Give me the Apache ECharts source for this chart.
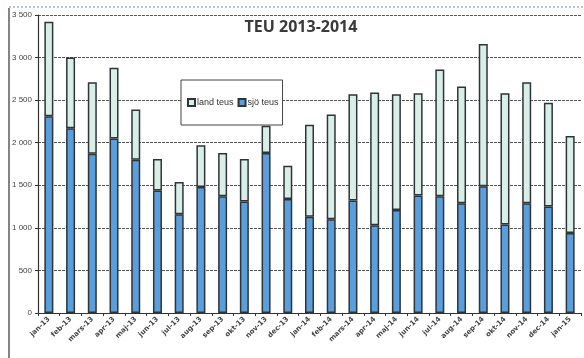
<!DOCTYPE html>
<html>
<head>
<meta charset="utf-8">
<script src="https://cdn.jsdelivr.net/npm/echarts@6/dist/echarts.min.js"></script>
<style>
  html, body { margin: 0; padding: 0; background: #fff; }
  #chart { width: 584px; height: 358px; }
</style>
</head>
<body>
<div id="chart"></div>
<script>
// Months on the category axis
const months = ['jan-13','feb-13','mars-13','apr-13','maj-13','jun-13','jul-13','aug-13','sep-13','okt-13','nov-13','dec-13',
  'jan-14','feb-14','mars-14','apr-14','maj-14','jun-14','jul-14','aug-14','sep-14','okt-14','nov-14','dec-14','jan-15'];

// Total TEU per month (top of each stacked bar)
const totalTeus = [3420, 3000, 2710, 2880, 2390, 1810, 1540, 1970, 1880, 1810, 2200, 1730,
  2210, 2330, 2570, 2590, 2570, 2580, 2860, 2660, 3160, 2580, 2710, 2470, 2080];

// Sea TEU per month (lower segment)
const sjoTeus = [2310, 2170, 1870, 2050, 1800, 1440, 1160, 1480, 1370, 1310, 1880, 1340,
  1130, 1100, 1320, 1030, 1210, 1380, 1370, 1290, 1490, 1040, 1290, 1250, 940];

// Land TEU is the remainder on top of the sea segment
const landTeus = totalTeus.map((t, i) => t - sjoTeus[i]);

const yTicks = [0, 500, 1000, 1500, 2000, 2500, 3000, 3500];

const chart = echarts.init(document.getElementById('chart'));
const fmt = v => v >= 1000 ? Math.floor(v / 1000) + ' ' + String(v % 1000).padStart(3, '0') : String(v);

chart.setOption({
  animation: false,
  backgroundColor: '#fff',
  title: {
    text: 'TEU 2013-2014',
    left: 296, top: 14, textAlign: 'center',
    textStyle: { fontFamily: 'Open Sans', fontWeight: 'bold', fontSize: 16, color: '#3a3a3a' }
  },
  legend: {
    data: ['land teus', 'sjö teus'],
    left: 181, top: 80, width: 98, height: 48,
    padding: [18, 4, 18, 6],
    itemGap: 4,
    icon: 'rect',
    itemWidth: 7, itemHeight: 7,
    backgroundColor: '#fff',
    borderColor: '#444', borderWidth: 1,
    textStyle: { fontFamily: 'Liberation Sans', fontSize: 9, color: '#333', padding: [0, 0, 0, -3] }
  },
  grid: { left: 38, right: 3, top: 15, bottom: 45, containLabel: false },
  xAxis: {
    type: 'category',
    data: months,
    axisLine: { lineStyle: { color: '#333', width: 1 } },
    axisTick: { show: true, alignWithLabel: false, lineStyle: { color: '#333' }, length: 3 },
    axisLabel: { interval: 0, rotate: 45, fontFamily: 'DejaVu Sans', fontSize: 7, fontWeight: 'bold', color: '#444', margin: 5 }
  },
  yAxis: {
    type: 'value',
    min: 0, max: 3500, interval: 500,
    axisLine: { show: true, lineStyle: { color: '#333', width: 1.2 } },
    axisTick: { show: true, length: 3, lineStyle: { color: '#333' } },
    axisLabel: { fontFamily: 'Liberation Sans', fontSize: 8, color: '#444', margin: 6, formatter: fmt },
    splitLine: { lineStyle: { color: '#555', type: [3, 1], width: 1 } }
  },
  series: [
    {
      name: 'sjö teus', type: 'bar', stack: 'teu', barWidth: 9,
      data: sjoTeus,
      itemStyle: { color: '#5a9fdc', borderColor: '#2e3438', borderWidth: 1.5 }
    },
    {
      name: 'land teus', type: 'bar', stack: 'teu', barWidth: 9,
      data: landTeus,
      itemStyle: { color: '#d8efe8', borderColor: '#2e3438', borderWidth: 1.5 }
    }
  ],
  graphic: [
    { type: 'line', shape: { x1: 9, y1: 8, x2: 9, y2: 358 }, style: { stroke: '#333', lineWidth: 1.2 } },
    { type: 'line', shape: { x1: 9, y1: 7, x2: 584, y2: 7 }, style: { stroke: '#6a8fbf', lineWidth: 1, lineDash: [2, 2] } }
  ]
});
</script>
</body>
</html>
